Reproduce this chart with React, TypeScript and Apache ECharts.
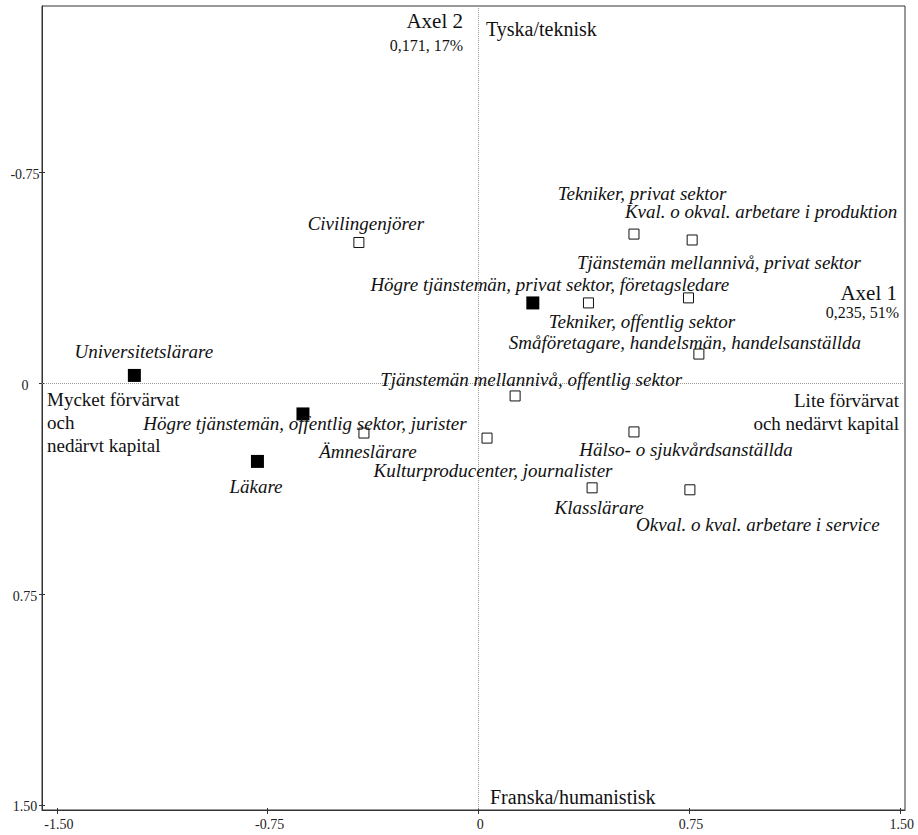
import React, { useEffect, useRef } from "react";
import * as echarts from "echarts";

// ---- data ----
const filledNames = [
  "Universitetslärare",
  "Högre tjänstemän, offentlig sektor, jurister",
  "Läkare",
  "Högre tjänstemän, privat sektor, företagsledare",
];
const filledX = [-1.224, -0.624, -0.786, 0.194];
const filledY = [-0.028, 0.109, 0.278, -0.286];

const hollowNames = [
  "Civilingenjörer",
  "Tekniker, privat sektor",
  "Kval. o okval. arbetare i produktion",
  "Tjänstemän mellannivå, privat sektor",
  "Tekniker, offentlig sektor",
  "Småföretagare, handelsmän, handelsanställda",
  "Tjänstemän mellannivå, offentlig sektor",
  "Ämneslärare",
  "Kulturproducenter, journalister",
  "Hälso- o sjukvårdsanställda",
  "Klasslärare",
  "Okval. o kval. arbetare i service",
];
const hollowX = [-0.425, 0.554, 0.761, 0.748, 0.392, 0.785, 0.131, -0.407, 0.031, 0.554, 0.405, 0.753];
const hollowY = [-0.501, -0.531, -0.51, -0.304, -0.286, -0.104, 0.045, 0.177, 0.195, 0.173, 0.372, 0.379];

const tickValues = [-1.5, -0.75, 0, 0.75, 1.5];

// ---- layout (label offsets in px, relative to each marker) ----
const filledLabelOffsets = [
  [9.5, -23.5],
  [2, 10],
  [-1.5, 25.5],
  [17, -18],
];
const hollowLabelOffsets = [
  [7, -19.5],
  [8, -41],
  [69, -28],
  [30.5, -35],
  [53.5, 19],
  [-14, -12],
  [16, -16],
  [4, 18],
  [6, 32],
  [52, 18],
  [7, 20],
  [68, 35],
];

const SERIF = "Liberation Serif";

function fmtTick(v: number) {
  return v === 0 ? "0" : v.toFixed(2);
}

export default function App() {
  const ref = useRef<HTMLDivElement | null>(null);

  useEffect(() => {
    if (!ref.current) return;
    const chart = echarts.init(ref.current, undefined, { renderer: "svg" });

    const xMin = -1.5527;
    const xMax = 1.5185;
    const yMin = -1.3427;
    const yMax = 1.5185;

    const txt = (
      text: string,
      x: number,
      y: number,
      size: number,
      align: string,
      vAlign = "middle",
      lineHeight?: number,
      italic = false,
      fill = "#111"
    ) => ({
      type: "text",
      silent: true,
      z: 10,
      style: {
        text,
        x,
        y,
        font: `${italic ? "italic " : ""}${size}px ${SERIF}`,
        fill,
        align,
        textAlign: align,
        verticalAlign: vAlign,
        textVerticalAlign: vAlign,
        lineHeight,
      },
    });

    const tickLine = { color: "#333", width: 1 };

    chart.setOption({
      animation: false,
      backgroundColor: "#fff",
      grid: {
        left: 42,
        right: 13,
        top: 6,
        bottom: 25,
        show: true,
        borderColor: "#333",
        borderWidth: 1,
        containLabel: false,
      },
      xAxis: [
        {
          type: "value",
          min: xMin,
          max: xMax,
          position: "bottom",
          axisLine: { show: true, onZero: false, lineStyle: { color: "#333", width: 1 } },
          axisTick: { show: true, length: 4, customValues: tickValues, lineStyle: tickLine },
          axisLabel: { show: false },
          splitLine: { show: false },
        },
        {
          type: "value",
          min: xMin,
          max: xMax,
          position: "bottom",
          axisLine: { show: false, onZero: false },
          axisTick: { show: true, inside: true, length: 2, customValues: tickValues, lineStyle: tickLine },
          axisLabel: { show: false },
          splitLine: { show: false },
        },
      ],
      yAxis: [
        {
          type: "value",
          inverse: true,
          min: yMin,
          max: yMax,
          position: "left",
          axisLine: { show: true, onZero: false, lineStyle: { color: "#333", width: 1 } },
          axisTick: { show: true, length: 3, customValues: tickValues, lineStyle: tickLine },
          axisLabel: { show: false },
          splitLine: { show: false },
        },
        {
          type: "value",
          inverse: true,
          min: yMin,
          max: yMax,
          position: "left",
          axisLine: { show: false, onZero: false },
          axisTick: { show: true, inside: true, length: 3, customValues: tickValues, lineStyle: tickLine },
          axisLabel: { show: false },
          splitLine: { show: false },
        },
      ],
      series: [
        {
          type: "scatter",
          name: "hollow",
          xAxisIndex: 0,
          yAxisIndex: 0,
          symbol: "rect",
          symbolSize: 10,
          itemStyle: { color: "#fff", borderColor: "#111", borderWidth: 1, opacity: 1 },
          data: hollowNames.map((n, i) => ({ name: n, value: [hollowX[i], hollowY[i]] })),
          z: 3,
          markLine: {
            silent: true,
            symbol: ["none", "none"],
            label: { show: false },
            lineStyle: { type: [1, 1], color: "#999", width: 1 },
            data: [{ xAxis: 0 }, { yAxis: 0 }],
          },
        },
        {
          type: "scatter",
          name: "filled",
          xAxisIndex: 0,
          yAxisIndex: 0,
          symbol: "rect",
          symbolSize: 13,
          itemStyle: { color: "#000", borderColor: "#000", borderWidth: 0, opacity: 1 },
          data: filledNames.map((n, i) => ({ name: n, value: [filledX[i], filledY[i]] })),
          z: 4,
        },
      ],
    });

    // text placed through the chart's own scales
    const toPx = (x: number, y: number) => chart.convertToPixel({ seriesIndex: 0 }, [x, y]) as number[];
    const axisBottom = toPx(0, yMax)[1];
    const axisLeft = toPx(xMin, 0)[0];

    const graphics: any[] = [];
    tickValues.forEach((v) => {
      const p = toPx(v, 0);
      graphics.push(txt(fmtTick(v), p[0] + 2, axisBottom + 7, 14, "center", "top", undefined, false, "#222"));
    });
    tickValues
      .filter((v) => v >= yMin && v <= yMax)
      .forEach((v) => {
        const p = toPx(0, v);
        graphics.push(txt(fmtTick(v), axisLeft - 17, p[1] + 2, 14, "center", "middle", undefined, false, "#222"));
      });
    filledNames.forEach((n, i) => {
      const p = toPx(filledX[i], filledY[i]);
      const o = filledLabelOffsets[i];
      graphics.push(txt(n, p[0] + o[0], p[1] + o[1], 19, "center", "middle", undefined, true));
    });
    hollowNames.forEach((n, i) => {
      const p = toPx(hollowX[i], hollowY[i]);
      const o = hollowLabelOffsets[i];
      graphics.push(txt(n, p[0] + o[0], p[1] + o[1], 19, "center", "middle", undefined, true));
    });

    graphics.push(
      txt("Axel 2", 463, 21, 21, "right"),
      txt("0,171, 17%", 463, 45, 16, "right"),
      txt("Tyska/teknisk", 486, 29, 20, "left"),
      txt("Franska/humanistisk", 490, 797, 20, "left"),
      txt("Axel 1", 897, 293, 21, "right"),
      txt("0,235, 51%", 899, 312, 16, "right"),
      txt("Mycket förvärvat\noch\nnedärvt kapital", 47, 388, 19, "left", "top", 23),
      txt("Lite förvärvat\noch nedärvt kapital", 899, 389, 19, "right", "top", 23)
    );

    chart.setOption({ graphic: graphics });

    return () => chart.dispose();
  }, []);

  return (
    <div
      ref={ref}
      style={{ position: "absolute", left: 0, top: 0, width: 918, height: 835, background: "#fff" }}
    />
  );
}
